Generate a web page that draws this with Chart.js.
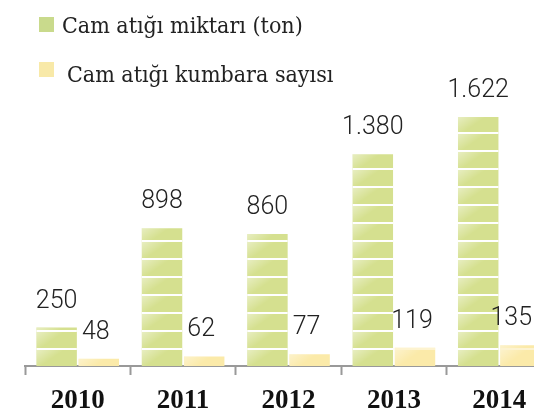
<!DOCTYPE html>
<html>
<head>
<meta charset="utf-8">
<script src="https://cdn.jsdelivr.net/npm/chart.js@4.4.1/dist/chart.umd.min.js"></script>
<style>
  html, body { margin: 0; padding: 0; background: #fff; overflow: hidden; }
  #wrap { position: relative; width: 534px; height: 415px; overflow: hidden; }
  #chart { position: absolute; left: 0; top: 0; }
  .sw { position: absolute; left: 39px; width: 15px; height: 15px; }
  .lt { position: absolute; font-family: "DejaVu Serif Condensed", "DejaVu Serif", serif;
        font-size: 23px; line-height: 23px; color: #222; white-space: nowrap; }
</style>
</head>
<body>
<div id="wrap">
  <canvas id="chart" width="552" height="427"></canvas>
  <div class="sw" style="top:17px;background:#c9da8c"></div>
  <div class="lt" style="left:62px;top:14px">Cam atığı miktarı (ton)</div>
  <div class="sw" style="top:62px;background:#f8e9a8"></div>
  <div class="lt" style="left:67px;top:63px">Cam atığı kumbara sayısı</div>
</div>
<script>
// yıllar ve değerler
var years = ['2010', '2011', '2012', '2013', '2014'];
var camMiktari = [250, 898, 860, 1380, 1622];
var kumbaraSayisi = [48, 62, 77, 119, 135];

var green = '#d5e08f';
var yellow = '#fbeaa9';

function trNum(v) {
  return String(v).replace(/\B(?=(\d{3})+(?!\d))/g, '.');
}

// bloklar + değer etiketleri
var barDeco = {
  id: 'barDeco',
  afterDatasetsDraw: function(chart) {
    var ctx = chart.ctx;
    var base = chart.scales.y.getPixelForValue(0);
    chart.data.datasets.forEach(function(ds, di) {
      var meta = chart.getDatasetMeta(di);
      meta.data.forEach(function(bar, i) {
        var left = bar.x - bar.width / 2;
        var w = bar.width;
        ctx.save();
        var y = base;
        while (y > bar.y + 0.5) {
          var top = Math.max(bar.y, y - 16);
          // parlaklık (sol üst köşe)
          var g = ctx.createLinearGradient(left, top, left + 9, top + 13);
          g.addColorStop(0, 'rgba(255,255,255,' + (di === 0 ? 0.45 : 0.4) + ')');
          g.addColorStop(1, 'rgba(255,255,255,0)');
          ctx.fillStyle = g;
          ctx.fillRect(left, top, w, y - top);
          y = y - 16;
          // ayırıcı çizgi
          if (y > bar.y + 1) {
            ctx.fillStyle = di === 0 ? '#ffffff' : 'rgba(255,255,255,0.45)';
            ctx.fillRect(left, y - 2, w, 2);
            y -= 2;
          }
        }
        ctx.restore();
        // etiket
        ctx.save();
        ctx.fillStyle = '#222';
        ctx.font = '300 25px Roboto, "Noto Sans", sans-serif';
        ctx.textAlign = 'center';
        ctx.textBaseline = 'alphabetic';
        var txt = trNum(ds.data[i]);
        var tw = ctx.measureText(txt).width;
        var tx = Math.min(bar.x - (di === 1 ? 3 : 0), 532 - tw / 2);
        ctx.fillText(txt, tx, bar.y - 20);
        ctx.restore();
      });
    });
  }
};

var ctx = document.getElementById('chart').getContext('2d');
var chart = new Chart(ctx, {
  type: 'bar',
  data: {
    labels: years,
    datasets: [
      {
        label: 'Cam atığı miktarı (ton)',
        data: camMiktari,
        backgroundColor: green,
        borderWidth: 0,
        categoryPercentage: 0.8,
        barPercentage: 0.96
      },
      {
        label: 'Cam atığı kumbara sayısı',
        data: kumbaraSayisi,
        backgroundColor: yellow,
        borderWidth: 0,
        categoryPercentage: 0.8,
        barPercentage: 0.96
      }
    ]
  },
  options: {
    responsive: false,
    animation: false,
    layout: { padding: { left: 25, right: 0, top: 0, bottom: 0 } },
    plugins: {
      legend: { display: false },
      tooltip: { enabled: false }
    },
    scales: {
      x: {
        grid: { display: true, drawOnChartArea: false, offset: true, tickLength: 9, tickWidth: 2, tickColor: '#999' },
        border: { display: true, color: '#999', width: 2 },
        ticks: {
          color: '#111',
          padding: 12.5,
          font: { family: '"Liberation Serif", serif', size: 27, weight: 'bold', lineHeight: 1 }
        }
      },
      y: {
        display: false,
        min: 0,
        max: 2384
      }
    }
  },
  plugins: [barDeco]
});
</script>
</body>
</html>
